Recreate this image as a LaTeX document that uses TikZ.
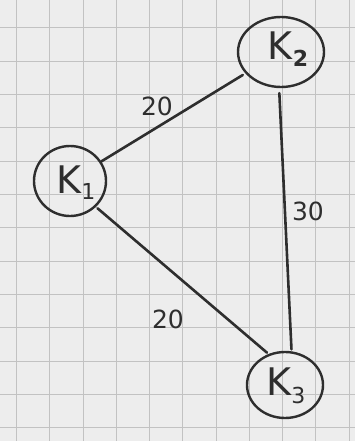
\documentclass[tikz,border=0pt]{standalone}
\usepackage{fontspec}
\setmainfont{DejaVu Sans}
\usetikzlibrary{shapes.geometric}
\definecolor{paper}{HTML}{EDEDED}
\definecolor{gridc}{HTML}{C2C2C2}
\definecolor{ink}{HTML}{2E2E2E}
\tikzset{
  vtx/.style={draw=ink, line width=2.4pt, ellipse, inner sep=0pt},
  edge/.style={draw=ink, line width=2.6pt, line cap=round},
  lab/.style={text=ink, inner sep=0pt, font=\fontsize{38}{38}\selectfont},
  wlab/.style={text=ink, inner sep=0pt, font=\fontsize{25}{25}\selectfont}
}
\newcommand{\mysub}[2]{\raisebox{#1}{\fontsize{22}{22}\selectfont #2}}
\begin{document}
\begin{tikzpicture}[x=1pt,y=-1pt]
\useasboundingbox (0,0) rectangle (355,441);
\fill[paper] (0,0) rectangle (355,441);
\foreach \i in {0,...,10} {\draw[gridc, line width=1pt] ({16.5+33.25*\i},0) -- ({16.5+33.25*\i},441);}
\foreach \j in {0,...,12} {\draw[gridc, line width=1pt] (0,{28+33.3*\j}) -- (355,{28+33.3*\j});}
% vertices
\node[vtx, minimum width=72pt, minimum height=70pt] (k1) at (70,181) {};
\node[vtx, minimum width=86pt, minimum height=70pt] (k2) at (281,52) {};
\node[vtx, minimum width=76pt, minimum height=66pt] (k3) at (285,385) {};
\node[lab] (t1) at (76,183) {K\mysub{-6pt}{1}};
\node[lab] (t2) at (288,49) {K\mysub{-7pt}{\textbf{2}}};
\node[lab] (t3) at (286,386) {K\mysub{-8pt}{3}};
% edges
\draw[edge, shorten >=3pt] (k1.32) -- (k2.211);
\draw[edge, shorten <=5pt, shorten >=2pt] (k2.267) -- (k3.79);
\draw[edge, shorten <=2pt, shorten >=2pt] (k1.-45) -- (k3.118);
% weights
\node[wlab] (w12) at (157,106) {20};
\node[wlab] (w23) at (308,211) {30};
\node[wlab] (w13) at (168,319) {20};
\end{tikzpicture}
\end{document}
